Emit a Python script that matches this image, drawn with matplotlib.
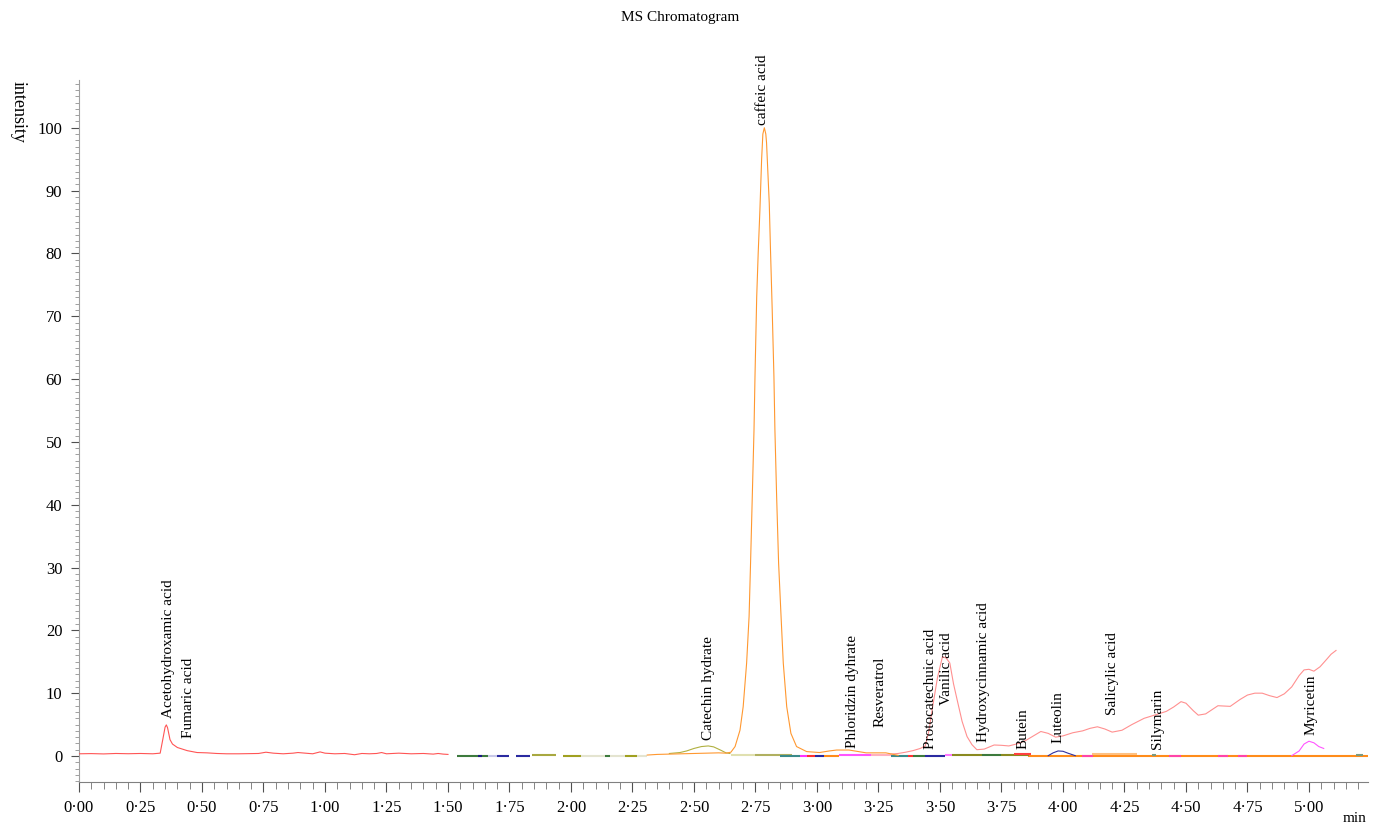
import matplotlib
matplotlib.use("Agg")
from matplotlib import pyplot as plt
from matplotlib.ticker import MultipleLocator, FuncFormatter

plt.rcParams['font.family'] = ['Liberation Serif', 'DejaVu Serif']

# red trace, 0 - 1.5 min
red_t = [0.00, 0.05, 0.10, 0.15, 0.20, 0.25, 0.30, 0.33, 0.34, 0.35, 0.355, 0.36, 0.37, 0.38,
         0.40, 0.44, 0.48, 0.52, 0.56, 0.60, 0.65, 0.70, 0.73, 0.76, 0.79, 0.83, 0.87, 0.89,
         0.92, 0.95, 0.98, 1.00, 1.04, 1.08, 1.12, 1.15, 1.18, 1.21, 1.23, 1.25, 1.30, 1.35,
         1.40, 1.44, 1.46, 1.48, 1.50]
red_i = [0.35, 0.38, 0.33, 0.40, 0.36, 0.40, 0.35, 0.45, 2.5, 4.6, 4.95, 4.5, 2.6, 1.9,
         1.35, 0.85, 0.55, 0.5, 0.4, 0.35, 0.35, 0.38, 0.4, 0.6, 0.45, 0.35, 0.45, 0.55,
         0.45, 0.35, 0.65, 0.45, 0.35, 0.4, 0.2, 0.4, 0.35, 0.4, 0.55, 0.35, 0.45, 0.35,
         0.4, 0.3, 0.4, 0.3, 0.25]

# caffeic acid (orange)
orange_t = [2.31, 2.35, 2.40, 2.45, 2.50, 2.55, 2.60, 2.63, 2.65, 2.667, 2.687, 2.70, 2.714,
            2.724, 2.730, 2.737, 2.744, 2.748, 2.755, 2.761, 2.768, 2.775, 2.780, 2.786,
            2.792, 2.795, 2.806, 2.811, 2.818, 2.825, 2.829, 2.836, 2.844, 2.854, 2.863,
            2.877, 2.894, 2.917, 2.958, 3.01, 3.05, 3.08, 3.13, 3.20, 3.28, 3.33]
orange_i = [0.15, 0.25, 0.3, 0.35, 0.4, 0.45, 0.5, 0.45, 0.6, 1.5, 4.1, 7.85, 14.8,
            22.2, 30.7, 41.3, 51.9, 60.4, 73.1, 80.0, 86.9, 95.0, 99.0, 100.0,
            99.0, 97.6, 88.0, 80.6, 71.0, 60.4, 51.9, 41.3, 30.7, 22.2, 14.8,
            7.85, 3.6, 1.5, 0.7, 0.55, 0.8, 0.95, 0.95, 0.5, 0.5, 0.1]

# catechin hydrate (olive)
olive_t = [2.40, 2.443, 2.47, 2.50, 2.53, 2.558, 2.58, 2.61, 2.63, 2.646]
olive_i = [0.4, 0.55, 0.8, 1.2, 1.5, 1.6, 1.45, 0.9, 0.5, 0.4]

# pink trace, vanilic acid onwards
pink_t = [3.30, 3.33, 3.36, 3.39, 3.42, 3.44, 3.455, 3.47, 3.49, 3.51, 3.525, 3.54, 3.555,
          3.57, 3.59, 3.61, 3.63, 3.65, 3.68, 3.72, 3.75, 3.78, 3.82, 3.85, 3.88, 3.91,
          3.94, 3.97, 4.00, 4.04, 4.08, 4.11, 4.14, 4.17, 4.20, 4.24, 4.28, 4.33, 4.38,
          4.42, 4.45, 4.48, 4.50, 4.53, 4.55, 4.58, 4.63, 4.68, 4.72, 4.75, 4.78, 4.81,
          4.84, 4.87, 4.90, 4.93, 4.96, 4.98, 5.00, 5.02, 5.045, 5.07, 5.09, 5.11]
pink_i = [0.3, 0.4, 0.6, 0.85, 1.2, 1.6, 4.0, 7.8, 12.5, 15.8, 15.6, 14.8, 11.5,
          8.9, 5.5, 3.1, 1.8, 1.0, 1.1, 1.75, 1.7, 1.6, 2.0, 2.5, 3.2, 3.9,
          3.6, 3.0, 3.2, 3.7, 4.0, 4.4, 4.65, 4.3, 3.8, 4.1, 5.0, 6.0, 6.6,
          7.1, 7.8, 8.65, 8.4, 7.2, 6.5, 6.7, 8.0, 7.9, 9.0, 9.7, 10.0, 10.0,
          9.6, 9.3, 9.9, 11.0, 12.8, 13.7, 13.8, 13.5, 14.2, 15.3, 16.2, 16.8]

# luteolin (navy)
blue_t = [3.94, 3.96, 3.98, 4.00, 4.02, 4.05]
blue_i = [0.05, 0.5, 0.8, 0.75, 0.45, 0.05]

# myricetin (magenta)
mag_t = [4.93, 4.96, 4.98, 5.00, 5.02, 5.04, 5.06]
mag_i = [0.05, 0.8, 1.9, 2.35, 2.1, 1.5, 1.2]

# small baseline traces
seg_start = [1.535, 1.62, 1.664, 1.70, 1.778, 1.84, 1.966, 2.04, 2.14, 2.16, 2.22, 2.27,
             2.65, 2.75, 2.85, 2.93, 2.96, 2.99, 3.03, 3.09, 3.22, 3.30, 3.37, 3.39,
             3.44, 3.52, 3.55, 3.67, 3.75, 3.80, 4.076, 4.12, 4.36, 4.43, 4.63,
             4.71, 5.19]
seg_end = [1.664, 1.64, 1.70, 1.75, 1.834, 1.94, 2.04, 2.14, 2.16, 2.22, 2.27, 2.31,
           2.75, 2.90, 2.93, 2.96, 2.99, 3.03, 3.09, 3.22, 3.30, 3.37, 3.39, 3.44,
           3.52, 3.55, 3.67, 3.75, 3.86, 3.87, 4.123, 4.30, 4.38, 4.48, 4.67,
           4.75, 5.22]
seg_level = [0.05, 0.0, 0.05, 0.0, 0.0, 0.1, 0.05, 0.05, 0.05, 0.05, 0.05, 0.05,
             0.2, 0.15, 0.0, 0.0, 0.0, 0.0, 0.0, 0.1, 0.1, 0.0, 0.0, 0.0,
             0.0, 0.2, 0.1, 0.1, 0.2, 0.35, 0.05, 0.3, 0.1, 0.05, 0.05,
             0.05, 0.1]
seg_color = ['#3d7a3d', '#1a1a80', '#c8c8e8', '#2a2aa0', '#2a2aa0', '#a8a840', '#a0a020',
             '#e4e4d0', '#3d7a3d', '#e4e4d0', '#a0a020', '#e4e4d0',
             '#e0e0b0', '#b0b060', '#3a8a8a', '#ff33ff', '#ff3030', '#2a2aa0', '#ff8c1a',
             '#ff55ff', '#ffb0c0', '#3a8a8a', '#ff3030', '#3d7a3d',
             '#2a2aa0', '#ff77ff', '#8a8a20', '#3d7a3d', '#8a8a20', '#ff4040',
             '#ff44aa', '#ffc080', '#7a9a80', '#ff44aa', '#ff44aa',
             '#ff44aa', '#7a9a80']

orange_flat_t = [3.86, 5.24]
orange_flat_i = [0.0, 0.0]

labels = ['Acetohydroxamic acid', 'Fumaric acid', 'Catechin hydrate', 'caffeic acid',
          'Phloridzin dyhrate', 'Resveratrol', 'Protocatechuic acid', 'Vanilic acid',
          'Hydroxycinnamic acid', 'Butein', 'Luteolin', 'Salicylic acid', 'Silymarin',
          'Myricetin']
label_t = [0.362, 0.447, 2.557, 2.78, 3.146, 3.256, 3.463, 3.528, 3.675, 3.837, 3.98,
           4.203, 4.386, 5.008]
label_i = [6.05, 2.9, 2.5, 100.5, 1.3, 4.6, 1.1, 8.1, 2.2, 1.1, 2.0, 6.5, 1.1, 3.3]

fig = plt.figure(figsize=(13.81, 8.24), dpi=100)
ax = fig.add_axes([79 / 1381, 1 - 782 / 824, (1368 - 79) / 1381, (782 - 80) / 824])

ax.plot(orange_flat_t, orange_flat_i, color='#ff8c1a', linewidth=1.5, zorder=1)
for s, e, lv, c in zip(seg_start, seg_end, seg_level, seg_color):
    ax.plot([s, e], [lv, lv], color=c, linewidth=1.5, solid_capstyle='butt', zorder=2)

ax.plot(red_t, red_i, color='#ff5555', linewidth=0.8, zorder=3)
ax.plot(olive_t, olive_i, color='#b0b040', linewidth=0.8, zorder=3)
ax.plot(orange_t, orange_i, color='#ff9830', linewidth=0.8, zorder=4)
ax.plot(pink_t, pink_i, color='#ff9090', linewidth=0.8, zorder=3)
ax.plot(blue_t, blue_i, color='#3030a0', linewidth=0.8, zorder=3)
ax.plot(mag_t, mag_i, color='#ff55ff', linewidth=0.8, zorder=3)

for name, t, i in zip(labels, label_t, label_i):
    ax.text(t, i, name, rotation=90, ha='center', va='bottom', fontsize=11, color='black')

ax.set_xlim(0, 5.24)
ax.set_ylim(-4.14, 107.6)

ax.spines['top'].set_visible(False)
ax.spines['right'].set_visible(False)
ax.spines['left'].set_color('#a0a0a0')
ax.spines['bottom'].set_color('#808080')

ax.xaxis.set_major_locator(MultipleLocator(0.25))
ax.xaxis.set_minor_locator(MultipleLocator(0.05))
ax.xaxis.set_major_formatter(FuncFormatter(lambda v, p: f'{v:.2f}'.replace('.', '\u00b7')))
ax.yaxis.set_major_locator(MultipleLocator(10))
ax.yaxis.set_minor_locator(MultipleLocator(1))
ax.yaxis.set_major_formatter(FuncFormatter(lambda v, p: f'{v:.0f}'))

ax.tick_params(axis='x', which='major', length=7, color='#505050', labelsize=12, pad=6)
ax.tick_params(axis='x', which='minor', length=5, color='#707070')
ax.tick_params(axis='y', which='major', length=6, color='#505050', labelsize=12, pad=6)
ax.tick_params(axis='y', which='minor', length=3, color='#909090')

fig.text(680 / 1381, 1 - 18 / 824, 'MS Chromatogram', ha='center', va='center', fontsize=11)
fig.text(18 / 1381, 1 - 112 / 824, 'intensity', rotation=-90, ha='center', va='center',
         fontsize=13)
fig.text(1355 / 1381, 1 - 818 / 824, 'min', ha='center', va='center', fontsize=11)

fig.savefig('out.png', dpi=100)
